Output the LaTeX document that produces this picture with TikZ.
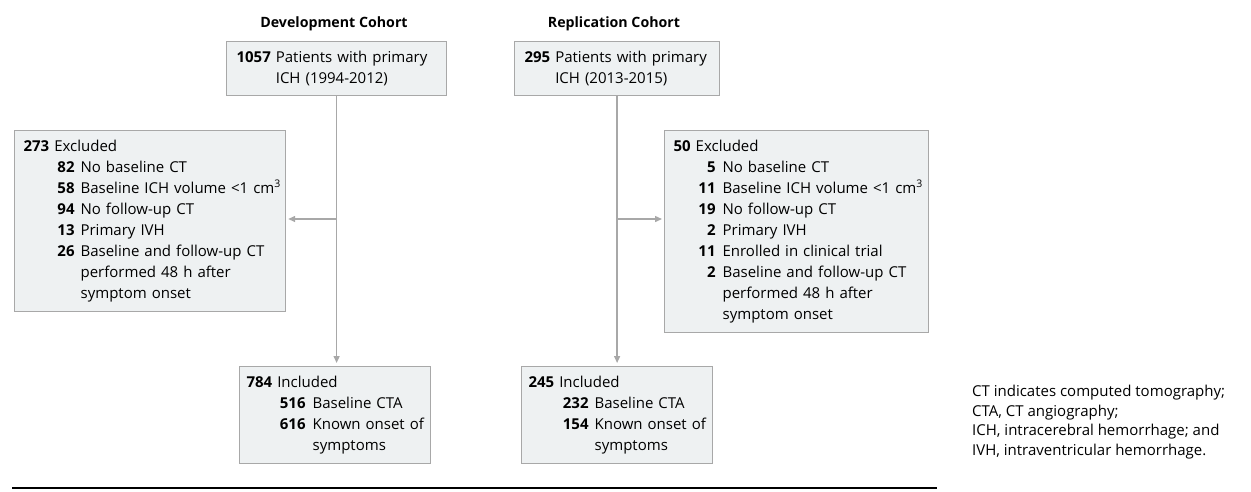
\documentclass[tikz,border=0pt]{standalone}
\usepackage{fontspec}
\setmainfont{Open Sans}
\usetikzlibrary{arrows.meta}
\definecolor{boxfill}{HTML}{EEF1F2}
\definecolor{boxline}{HTML}{A8A8A8}
\newcommand\boxfont{\fontsize{15}{21}\selectfont}
\newcommand\numcell[2]{\makebox[#1][r]{\textbf{#2}}}
\newcommand\cubic{\raisebox{0.45em}{\fontsize{10.5}{12}\selectfont 3}}
\begin{document}
\begin{tikzpicture}[x=1pt,y=-1pt,
  box/.style={draw=boxline, fill=boxfill, line width=1.2pt, anchor=north west,
    align=left, inner ysep=0pt, font=\boxfont},
  conn/.style={draw=boxline, line width=1.4pt, -{Triangle[length=7pt,width=6pt]}},
  hdr/.style={font=\fontsize{14.2}{18}\selectfont\bfseries, inner sep=0pt}]
\useasboundingbox (0,0) rectangle (1251,491);

\node[hdr, anchor=base] (h1) at (334,27) {Development Cohort};
\node[hdr, anchor=base] (h2) at (614,27) {Replication Cohort};

% Development cohort
\node[box, inner xsep=10pt, text width=200pt, minimum height=54pt] (n1) at (226,41)
  {\begin{tabular}{@{}l@{\hspace{5pt}}l@{}}\textbf{1057} & Patients with primary\\ & ICH (1994-2012)\end{tabular}};

\node[box, inner xsep=9pt, text width=253pt, minimum height=181pt] (ex1) at (14,130)
  {\begin{tabular}{@{}r@{\hspace{6pt}}l@{}}
   \multicolumn{2}{@{}l@{}}{\textbf{273} Excluded}\\
   \numcell{51pt}{82} & No baseline CT\\
   \numcell{51pt}{58} & Baseline ICH volume <1 cm\cubic\\
   \numcell{51pt}{94} & No follow-up CT\\
   \numcell{51pt}{13} & Primary IVH\\
   \numcell{51pt}{26} & Baseline and follow-up CT\\
   \numcell{51pt}{} & performed 48 h after\\
   \numcell{51pt}{} & symptom onset
  \end{tabular}};

\node[box, inner xsep=7pt, text width=177pt, minimum height=97pt] (inc1) at (239,366)
  {\begin{tabular}{@{}r@{\hspace{7pt}}l@{}}
   \multicolumn{2}{@{}l@{}}{\textbf{784} Included}\\
   \numcell{59pt}{516} & Baseline CTA\\
   \numcell{59pt}{616} & Known onset of\\
   \numcell{59pt}{} & symptoms
  \end{tabular}};

% Replication cohort
\node[box, inner xsep=10pt, text width=185pt, minimum height=54pt] (n2) at (514,41)
  {\begin{tabular}{@{}l@{\hspace{5pt}}l@{}}\textbf{295} & Patients with primary\\ & ICH (2013-2015)\end{tabular}};

\node[box, inner xsep=9pt, text width=246pt, minimum height=202pt] (ex2) at (664,130)
  {\begin{tabular}{@{}r@{\hspace{7pt}}l@{}}
   \multicolumn{2}{@{}l@{}}{\textbf{50} Excluded}\\
   \numcell{42pt}{5} & No baseline CT\\
   \numcell{42pt}{11} & Baseline ICH volume <1 cm\cubic\\
   \numcell{42pt}{19} & No follow-up CT\\
   \numcell{42pt}{2} & Primary IVH\\
   \numcell{42pt}{11} & Enrolled in clinical trial\\
   \numcell{42pt}{2} & Baseline and follow-up CT\\
   \numcell{42pt}{} & performed 48 h after\\
   \numcell{42pt}{} & symptom onset
  \end{tabular}};

\node[box, inner xsep=7pt, text width=177pt, minimum height=97pt] (inc2) at (521,366)
  {\begin{tabular}{@{}r@{\hspace{6pt}}l@{}}
   \multicolumn{2}{@{}l@{}}{\textbf{245} Included}\\
   \numcell{60pt}{232} & Baseline CTA\\
   \numcell{60pt}{154} & Known onset of\\
   \numcell{60pt}{} & symptoms
  \end{tabular}};

% connectors
\draw[conn, shorten >=3pt] (n1.south) -- (n1.south |- inc1.north);
\coordinate (j1) at (n1.south |- 0,219);
\draw[conn, shorten >=2pt] (j1) -- (j1 -| ex1.east);

\draw[conn, shorten >=3pt] (n2.south) -- (n2.south |- inc2.north);
\coordinate (j2) at (n2.south |- 0,219);
\draw[conn, shorten >=2pt] (j2) -- (j2 -| ex2.west);

% footnote and rule
\node[anchor=north west, align=left, inner sep=0pt,
  font=\fontsize{15}{19.6}\selectfont] (fn) at (972,385)
  {CT indicates computed tomography;\\
   CTA, CT angiography;\\
   ICH, intracerebral hemorrhage; and\\
   IVH, intraventricular hemorrhage.};
\coordinate (r1) at (12,488);
\coordinate (r2) at (937,488);
\draw[line width=1.2pt] (r1) -- (r2);
\end{tikzpicture}
\end{document}
